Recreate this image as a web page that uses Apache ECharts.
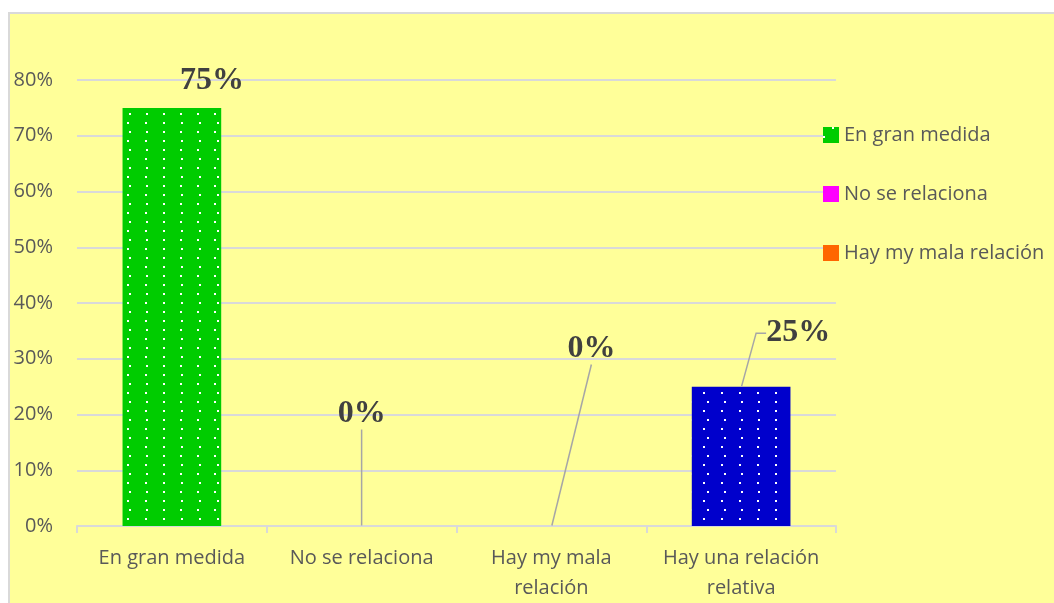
<!DOCTYPE html>
<html>
<head>
<meta charset="utf-8">
<script src="https://cdn.jsdelivr.net/npm/echarts@6/dist/echarts.min.js"></script>
<style>
  html, body { margin: 0; padding: 0; background: #fff; overflow: hidden; }
  #box { position: absolute; left: 8px; top: 12px; width: 1060px; height: 600px; border: 2px solid #d9d9d9; }
  #chart { width: 1060px; height: 600px; }
</style>
</head>
<body>
<div id="box"><div id="chart"></div></div>
<script>
const categories = ['En gran medida', 'No se relaciona', 'Hay my mala\nrelación', 'Hay una relación\nrelativa']
const seriesNames = ['En gran medida', 'No se relaciona', 'Hay my mala relación', 'Hay una relación relativa']
const values = [75, 0, 0, 25]
const colors = ['#00CC00', '#FF00FF', '#FF6600', '#0000CC']
const yTicks = [0, 10, 20, 30, 40, 50, 60, 70, 80]
// label offsets, leader line on/off, second segment length
const labelShift = [[40, -6, false, 0], [0, -91, true, 0], [40, -156, true, 0], [57, -32, true, 10]]

const chart = echarts.init(document.getElementById('chart'))

const dots = {
  symbol: 'rect', symbolSize: 1, color: '#ffffff',
  dashArrayX: [[2, 15], [0, 8.5, 2, 6.5]],
  dashArrayY: [2, 6.5]
}

const bars = values.map((v, i) => ({
  name: seriesNames[i],
  type: 'bar',
  stack: 'all',
  barWidth: '52%',
  itemStyle: { color: colors[i], decal: (i === 0 || i === 3) ? dots : null },
  data: categories.map((c, j) => (j === i ? v : '-'))
}))

// value labels sit on tiny points at the top centre of each bar, so leader lines end there
const labelSeries = {
  name: 'labels',
  type: 'scatter',
  symbol: 'rect',
  symbolSize: 1,
  silent: true,
  itemStyle: { color: 'rgba(0,0,0,0)', opacity: 1 },
  z: 5,
  data: values.map((v, i) => ({
    value: v,
    labelLine: { show: labelShift[i][2], length2: labelShift[i][3], lineStyle: { color: '#a6a6a6', width: 1.5 } }
  })),
  labelLayout: p => ({ dx: labelShift[p.dataIndex][0], dy: labelShift[p.dataIndex][1] }),
  label: {
    show: true, position: 'top', distance: 5,
    formatter: '{c}%',
    fontFamily: 'Liberation Serif', fontWeight: 'bold', fontSize: 32, color: '#404040'
  }
}

chart.setOption({
  animation: false,
  backgroundColor: '#FFFF99',
  aria: { enabled: false },
  grid: { left: 67, top: 66, width: 759, height: 446 },
  legend: {
    data: seriesNames.slice(0, 3),
    orient: 'vertical', left: 808, top: 105,
    icon: 'rect', itemWidth: 16, itemHeight: 16, itemGap: 37,
    textStyle: { fontFamily: 'Open Sans', fontSize: 20, color: '#595959', lineHeight: 22 }
  },
  xAxis: {
    type: 'category', data: categories,
    axisLine: { lineStyle: { color: '#d9d9d9', width: 2 } },
    axisTick: { show: true, interval: 0, length: 7, lineStyle: { color: '#d9d9d9', width: 2 } },
    axisLabel: { interval: 0, margin: 17, fontFamily: 'Open Sans', fontSize: 20, color: '#595959', lineHeight: 30 }
  },
  yAxis: {
    type: 'value', min: yTicks[0], max: yTicks[yTicks.length - 1], interval: 10,
    axisLabel: { formatter: '{value}%', margin: 24, fontFamily: 'Open Sans', fontSize: 20, color: '#595959' },
    splitLine: { lineStyle: { color: '#d9d9d9', width: 2 } }
  },
  series: bars.concat([labelSeries])
})
</script>
</body>
</html>
